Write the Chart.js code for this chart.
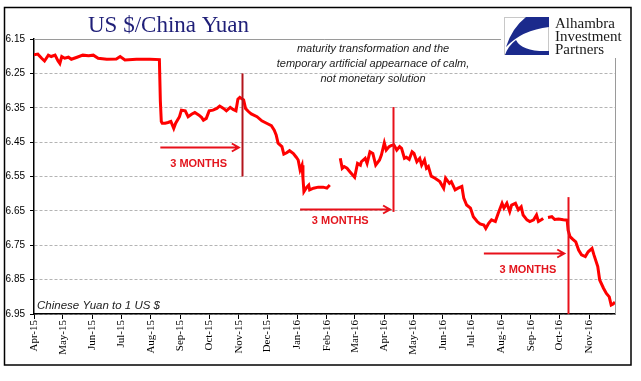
<!DOCTYPE html>
<html>
<head>
<meta charset="utf-8">
<script src="https://cdn.jsdelivr.net/npm/chart.js@4.4.1/dist/chart.umd.min.js"></script>
<style>
  html, body { margin: 0; padding: 0; background: #fff; }
  canvas { display: block; }
</style>
</head>
<body>
<canvas id="yuanChart" width="641" height="381"></canvas>
<script>
// Month tick labels (first day of each month)
const monthLabels = ['Apr-15', 'May-15', 'Jun-15', 'Jul-15', 'Aug-15', 'Sep-15', 'Oct-15', 'Nov-15', 'Dec-15',
    'Jan-16', 'Feb-16', 'Mar-16', 'Apr-16', 'May-16', 'Jun-16', 'Jul-16', 'Aug-16', 'Sep-16', 'Oct-16', 'Nov-16'];
const yTicks = [6.15, 6.25, 6.35, 6.45, 6.55, 6.65, 6.75, 6.85, 6.95];

// Days since 1 Apr 2015, and the yuan per dollar on that day (null = holiday gap)
const dayOffsets = [
    0, 4, 8, 11, 15, 18, 22, 25, 27, 29, 32, 36, 39, 45, 51, 57, 62, 67, 76, 86, 90, 95, 107, 121, 131, 132, 133,
    134, 137, 140, 143, 146, 148, 152, 154, 158, 161, 165, 168, 172, 175, 177, 180, 183, 187, 191, 194, 198, 201,
    205, 208, 211, 213, 215, 219, 221, 224, 227, 233, 238, 243, 248, 251, 253, 255, 259, 261, 264, 267, 271, 274,
    276, 278, 280, 281, 282, 285, 287, 288, 292, 297, 302, 306, 309,
    315,
    320, 322, 324, 327, 330, 335, 338, 341, 342, 346, 348, 351, 354, 357, 361, 363, 366, 368, 371, 373, 376, 379,
    382, 384, 387, 389, 392, 395, 397, 400, 403, 405, 408, 410, 412, 415, 419, 424, 428, 430, 434, 436, 440, 443,
    447, 449, 452, 456, 459, 463, 466, 470, 472, 475, 478, 482, 485, 489, 491, 494, 497, 499, 503, 506, 509, 511,
    515, 518, 522, 525, 527, 530, 532,
    534,
    537, 541, 544, 548, 553, 557, 558, 560, 563, 566, 569, 572, 576, 579, 583, 585, 589, 591, 595, 598, 601, 603,
    605, 607
];
const rates = [
    6.196, 6.194, 6.206, 6.214, 6.197, 6.201, 6.197, 6.213, 6.221, 6.201, 6.206, 6.203, 6.209, 6.203, 6.197, 6.199,
    6.197, 6.206, 6.209, 6.208, 6.201, 6.211, 6.209, 6.209, 6.21, 6.33, 6.39,
    6.395, 6.395, 6.393, 6.39, 6.41, 6.395, 6.376, 6.357, 6.359, 6.376, 6.368, 6.364, 6.371, 6.378, 6.386, 6.381,
    6.359, 6.357, 6.352, 6.345, 6.352, 6.359, 6.349, 6.355, 6.359, 6.325, 6.32, 6.327, 6.352, 6.361, 6.368, 6.376,
    6.388, 6.395, 6.402, 6.415, 6.429, 6.453, 6.463, 6.485, 6.481, 6.475, 6.483, 6.494, 6.502, 6.531, 6.517, 6.555,
    6.594, 6.581, 6.575, 6.589, 6.584, 6.581, 6.581, 6.584, 6.575,
    null,
    6.497, 6.526, 6.521, 6.526, 6.536, 6.552, 6.512, 6.517, 6.507, 6.497, 6.512, 6.478, 6.483, 6.517, 6.502, 6.487,
    6.452, 6.473, 6.463, 6.46, 6.458, 6.473, 6.463, 6.468, 6.497, 6.494, 6.5, 6.478, 6.483, 6.507, 6.497, 6.517,
    6.502, 6.526, 6.521, 6.549, 6.555, 6.565, 6.584, 6.555, 6.57, 6.565, 6.589, 6.584, 6.579, 6.613, 6.633, 6.642,
    6.667, 6.681, 6.688, 6.691, 6.701, 6.686, 6.676, 6.681, 6.657, 6.628, 6.642, 6.628, 6.652, 6.633, 6.628, 6.647,
    6.638, 6.662, 6.676, 6.681, 6.676, 6.662, 6.681, 6.676, 6.672,
    null,
    6.669, 6.667, 6.675, 6.674, 6.676, 6.677, 6.706, 6.725, 6.733, 6.74, 6.764, 6.778, 6.783, 6.769, 6.759, 6.778,
    6.812, 6.851, 6.875, 6.89, 6.9, 6.924, 6.921, 6.915
];

const lastDay = 607;
const dayMs = 24 * 3600 * 1000;
const monthDays = monthLabels.map((m, i) => (Date.UTC(2015, 3 + i, 1) - Date.UTC(2015, 3, 1)) / dayMs);

// "3 MONTHS" markers, in data units (days / yuan)
const markers = [
    { from: 132, to: 214, level: 6.464, lineDay: 217, top: 6.25, bottom: 6.55, lineColor: '#b3141c', textDay: 172, textLevel: 6.514 },
    { from: 278, to: 372, level: 6.645, lineDay: 375, top: 6.348, bottom: 6.653, lineColor: '#e8101a', textDay: 320, textLevel: 6.679 },
    { from: 470, to: 554, level: 6.772, lineDay: 557.5, top: 6.61, bottom: 6.95, lineColor: '#e8101a', textDay: 516, textLevel: 6.822 }
];

const decorations = {
    id: 'decorations',
    beforeDraw(chart) {
        const ctx = chart.ctx;
        ctx.save();
        ctx.fillStyle = '#fff';
        ctx.fillRect(0, 0, chart.width, chart.height);
        ctx.restore();
    },
    beforeDatasetsDraw(chart) {
        // grey frame on top and right of the plot
        const { ctx, chartArea: a } = chart;
        ctx.save();
        ctx.strokeStyle = '#9a9a9a';
        ctx.lineWidth = 1;
        ctx.beginPath();
        ctx.moveTo(a.left, a.top + 0.5);
        ctx.lineTo(a.right + 0.5, a.top + 0.5);
        ctx.lineTo(a.right + 0.5, a.bottom);
        ctx.stroke();
        ctx.restore();
    },
    afterDatasetsDraw(chart) {
        const { ctx } = chart;
        const xs = chart.scales.x, ys = chart.scales.y;
        ctx.save();
        markers.forEach(m => {
            const lx = Math.round(xs.getPixelForValue(m.lineDay)) + 0.5;
            ctx.strokeStyle = m.lineColor;
            ctx.lineWidth = 2;
            ctx.beginPath();
            ctx.moveTo(lx, ys.getPixelForValue(m.top));
            ctx.lineTo(lx, ys.getPixelForValue(m.bottom));
            ctx.stroke();

            const ay = Math.round(ys.getPixelForValue(m.level)) + 0.5;
            const x1 = xs.getPixelForValue(m.from), x2 = xs.getPixelForValue(m.to);
            ctx.strokeStyle = '#e8101a';
            ctx.beginPath();
            ctx.moveTo(x1, ay);
            ctx.lineTo(x2, ay);
            ctx.moveTo(x2 - 7, ay - 4);
            ctx.lineTo(x2, ay);
            ctx.lineTo(x2 - 7, ay + 4);
            ctx.stroke();

            ctx.fillStyle = '#e3161e';
            ctx.font = 'bold 11px "Liberation Sans", Arial, sans-serif';
            ctx.textAlign = 'center';
            ctx.textBaseline = 'middle';
            ctx.fillText('3 MONTHS', xs.getPixelForValue(m.textDay), ys.getPixelForValue(m.textLevel));
        });
        ctx.restore();
    },
    afterDraw(chart) {
        const ctx = chart.ctx;
        ctx.save();

        // outer frame
        ctx.strokeStyle = '#000';
        ctx.lineWidth = 1.5;
        ctx.strokeRect(4.5, 7.5, 626.5, 357.5);

        // title
        ctx.fillStyle = '#1f1f78';
        ctx.font = '23px "Liberation Serif", "Times New Roman", serif';
        ctx.textAlign = 'left';
        ctx.textBaseline = 'alphabetic';
        ctx.fillText('US $/China Yuan', 88, 32);

        // comment
        ctx.fillStyle = '#222';
        ctx.font = 'italic 11px "Liberation Sans", Arial, sans-serif';
        ctx.textAlign = 'center';
        ctx.fillText('maturity transformation and the', 373, 52);
        ctx.fillText('temporary artificial appearnace of calm,', 373, 67);
        ctx.fillText('not monetary solution', 373, 82);

        // unit note
        ctx.font = 'italic 11.5px "Liberation Sans", Arial, sans-serif';
        ctx.textAlign = 'left';
        ctx.fillText('Chinese Yuan to 1 US $', 37, 309);

        // logo
        ctx.fillStyle = '#fff';
        ctx.fillRect(501, 11, 128, 47);
        ctx.strokeStyle = '#c8c8c8';
        ctx.lineWidth = 1;
        ctx.strokeRect(504.5, 17.5, 44, 37);
        ctx.fillStyle = '#1b2a8c';
        ctx.beginPath();
        ctx.moveTo(526, 17);
        ctx.lineTo(549, 17);
        ctx.lineTo(549, 27);
        ctx.quadraticCurveTo(522, 30, 506, 47);
        ctx.quadraticCurveTo(512, 28, 526, 17);
        ctx.fill();
        ctx.beginPath();
        ctx.moveTo(505, 55);
        ctx.lineTo(549, 55);
        ctx.lineTo(549, 51);
        ctx.quadraticCurveTo(522, 52, 516, 40);
        ctx.quadraticCurveTo(508, 46, 505, 55);
        ctx.fill();

        ctx.fillStyle = '#1a1a1a';
        ctx.font = '15px "Liberation Serif", "Times New Roman", serif';
        ctx.fillText('Alhambra', 555, 28);
        ctx.fillText('Investment', 555, 41);
        ctx.fillText('Partners', 555, 54);

        ctx.restore();
    }
};

const ctx = document.getElementById('yuanChart').getContext('2d');
new Chart(ctx, {
    type: 'line',
    data: {
        datasets: [{
            label: 'USD/CNY',
            data: dayOffsets.map((d, i) => ({ x: d, y: rates[i] })),
            borderColor: '#ff0000',
            borderWidth: 3,
            pointRadius: 0,
            tension: 0,
            spanGaps: false,
            fill: false
        }]
    },
    options: {
        responsive: false,
        animation: false,
        devicePixelRatio: 1,
        layout: { padding: { top: 39, right: 26, left: 0, bottom: 0 } },
        plugins: {
            legend: { display: false },
            tooltip: { enabled: false },
            title: { display: false }
        },
        scales: {
            x: {
                type: 'linear',
                min: 0,
                max: lastDay,
                afterBuildTicks: scale => { scale.ticks = monthDays.map(v => ({ value: v })); },
                afterFit: scale => { scale.height = 67; },
                ticks: {
                    autoSkip: false,
                    minRotation: 90,
                    maxRotation: 90,
                    padding: 1,
                    color: '#000',
                    font: { family: '"Liberation Serif", "Times New Roman", serif', size: 11 },
                    callback: (value, index) => monthLabels[index]
                },
                grid: {
                    display: true,
                    drawOnChartArea: false,
                    drawTicks: true,
                    tickLength: 5,
                    tickColor: '#000',
                    tickWidth: 1
                },
                border: { display: true, color: '#000', width: 1.5 }
            },
            y: {
                type: 'linear',
                reverse: true,
                min: 6.15,
                max: 6.95,
                afterBuildTicks: scale => { scale.ticks = yTicks.map(v => ({ value: v })); },
                afterFit: scale => { scale.width = 34; },
                ticks: {
                    padding: 5,
                    color: '#000',
                    font: { family: '"Liberation Sans", Arial, sans-serif', size: 10 },
                    callback: value => value.toFixed(2)
                },
                grid: {
                    color: '#b4b4b4',
                    lineWidth: 1,
                    tickLength: 4,
                    tickColor: '#000',
                    tickBorderDash: []
                },
                border: { display: true, color: '#000', width: 1.5, dash: [3, 2] }
            }
        }
    },
    plugins: [decorations]
});
</script>
</body>
</html>
